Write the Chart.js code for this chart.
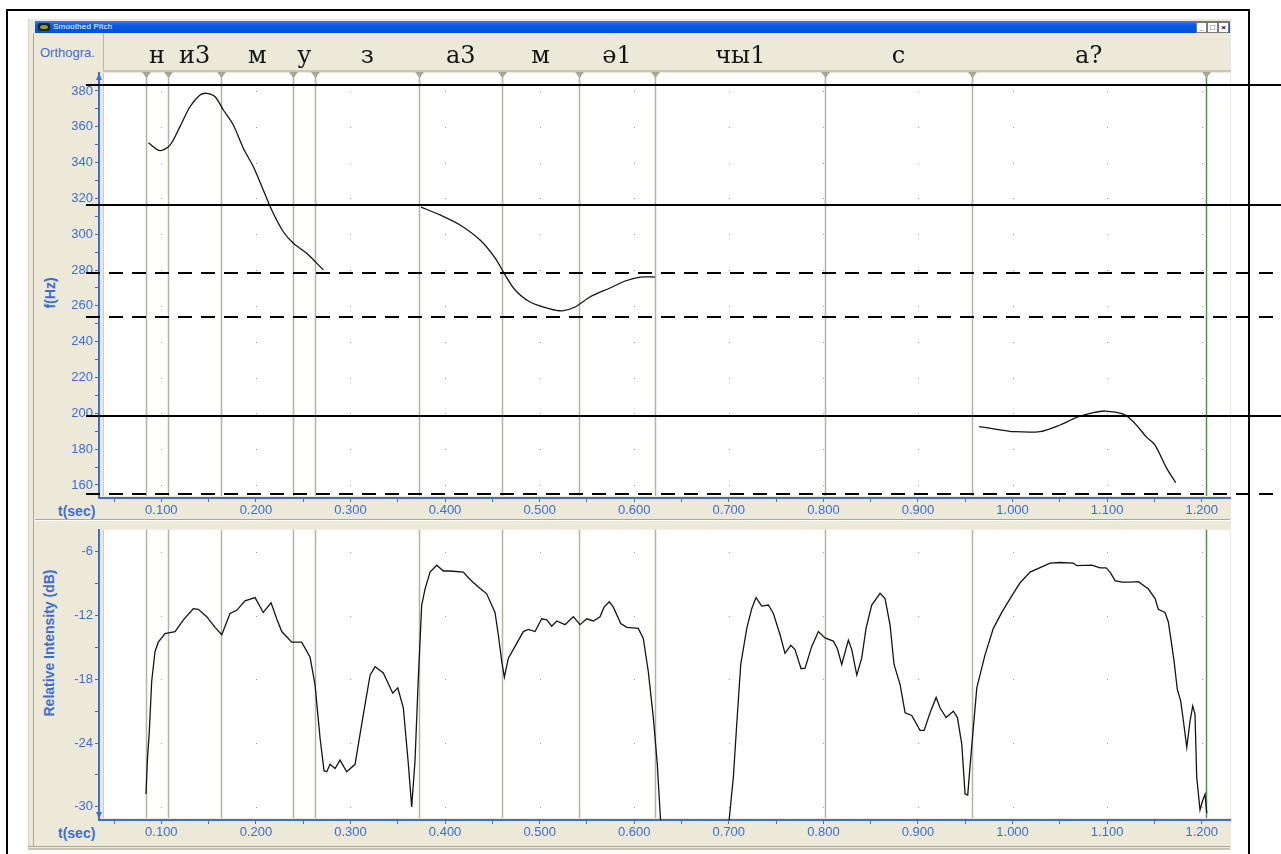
<!DOCTYPE html>
<html>
<head>
<meta charset="utf-8">
<script src="https://cdn.jsdelivr.net/npm/chart.js@4.4.1/dist/chart.umd.min.js"></script>
<style>
  body { margin:0; width:1281px; height:854px; overflow:hidden; position:relative; background:#fff;
         font-family:"Liberation Sans", Arial, sans-serif; }
  .abs { position:absolute; }
  #frame { left:6px; top:9px; width:1240px; height:900px; border:2px solid #000; }
  #win { left:28px; top:19px; width:1202px; height:831px; background:#ece9d8; border-left:1px solid #d8d4c6; }
  #edge { left:33px; top:33px; width:1px; height:814px; background:#aca899; }
  #titlebar { left:35px; top:21px; width:1195px; height:12px; background:linear-gradient(#3b80f4, #0a5ae2 35%, #0052dc); }
  #icon { left:38px; top:23px; width:12px; height:8px; background:#23260c; border-radius:2px; }
  #icon i { position:absolute; left:2px; top:2px; width:8px; height:4px; background:#9a9c2a; border-radius:50%; }
  #title { left:53px; top:21px; font-size:8px; line-height:12px; color:#fff; letter-spacing:0.2px; }
  .btn { top:22px; width:9px; height:9px; background:#fff; border:1px solid #7a7a7a; font-size:8px; line-height:9px;
         text-align:center; color:#000; font-weight:bold; }
  #orthoRow { left:103px; top:33px; width:1127px; height:37px; border-left:1px solid #b9b6a6; border-bottom:2px solid #c9c6b6; }
  #orthoLab { left:40px; top:45px; font-size:13px; line-height:15px; color:#3c6ed3; }
  .split { left:35px; width:1195px; height:1px; }
  .axt { font-size:14px; font-weight:bold; color:#3c6ed3; white-space:nowrap; line-height:16px; }
  .rot { transform:translate(-50%, -50%) rotate(-90deg); }
  canvas { position:absolute; left:0; }
</style>
</head>
<body>
<div id="frame" class="abs"></div>
<div id="win" class="abs"></div>
<div id="edge" class="abs"></div>
<div id="titlebar" class="abs"></div>
<div id="icon" class="abs"><i></i></div>
<div id="title" class="abs">Smoothed Pitch</div>
<div class="abs btn" style="left:1196px">_</div>
<div class="abs btn" style="left:1207px">□</div>
<div class="abs btn" style="left:1218px">×</div>
<div id="orthoRow" class="abs"></div>
<div id="orthoLab" class="abs">Orthogra.</div>
<div class="abs split" style="top:519px;background:#aca899"></div>
<div class="abs split" style="top:520px;background:#fff"></div>
<div class="abs split" style="top:846px;background:#aca899;left:28px;width:1202px"></div>
<div class="abs split" style="top:848px;background:#c9c5b5;left:28px;width:1202px;height:2px"></div>
<div class="abs axt rot" style="left:50px;top:293px">f(Hz)</div>
<div class="abs axt" style="left:58px;top:503px">t(sec)</div>
<div class="abs axt rot" style="left:49px;top:643px">Relative Intensity (dB)</div>
<div class="abs axt" style="left:58px;top:825px">t(sec)</div>

<canvas id="pitch" width="1281" height="854" style="top:0"></canvas>
<canvas id="intensity" width="1281" height="334" style="top:520px"></canvas>

<script>
// segment boundaries (sec) and the orthographic label of each segment
const segBounds = [0.0835, 0.1071, 0.1634, 0.2396, 0.2628, 0.3728, 0.4605, 0.5413, 0.6223, 0.8020, 0.9568, 1.2042];
const segLabels = ['н', 'и3', 'м', 'у', 'з', 'а3', 'м', 'ә1', 'чы1', 'с', 'а?'];

// time axis
const tMin = 0.0341, tMax = 1.2299;
const tTicksMajor = [0.1, 0.2, 0.3, 0.4, 0.5, 0.6, 0.7, 0.8, 0.9, 1.0, 1.1, 1.2];
const tTicksMinor = [0.05, 0.15, 0.25, 0.35, 0.45, 0.55, 0.65, 0.75, 0.85, 0.95, 1.05, 1.15];

// pitch axis
const hzMin = 152.74, hzMax = 390.05;
const hzTicksMajor = [160, 180, 200, 220, 240, 260, 280, 300, 320, 340, 360, 380];
const hzTicksMinor = [170, 190, 210, 230, 250, 270, 290, 310, 330, 350, 370];

// intensity axis
const dbMin = -31.24, dbMax = -3.92;
const dbTicksMajor = [-30, -24, -18, -12, -6];
const dbTicksMinor = [-27, -21, -15, -9];

// reference levels drawn across the pitch panel
const refSolidHz = [383.5, 316.5, 198.5];
const refDashedHz = [278.5, 254.0, 155.0];

// smoothed pitch, three voiced stretches
const pitchT1 = [0.0863, 0.0986, 0.1092, 0.1197, 0.1303, 0.1409, 0.1480, 0.1568, 0.1656, 0.1761, 0.1867, 0.1973, 0.2078, 0.2167, 0.2290, 0.2396, 0.2537, 0.2713];
const pitchHz1 = [351.1, 346.7, 349.8, 360.1, 371.2, 377.8, 378.7, 376.8, 369.4, 361.0, 348.0, 337.7, 324.7, 313.6, 301.4, 295.0, 289.4, 280.1];
const pitchT2 = [0.3746, 0.3947, 0.4158, 0.4370, 0.4528, 0.4634, 0.4740, 0.4898, 0.5110, 0.5237, 0.5374, 0.5533, 0.5744, 0.5903, 0.6061, 0.6220];
const pitchHz2 = [315.2, 310.8, 305.2, 296.8, 286.8, 277.3, 268.9, 262.2, 258.3, 257.2, 259.4, 265.0, 270.0, 273.9, 276.1, 276.1];
const pitchT3 = [0.9646, 0.9833, 1.0008, 1.0291, 1.0502, 1.0678, 1.0854, 1.0978, 1.1171, 1.1277, 1.1419, 1.1506, 1.1630, 1.1725];
const pitchHz3 = [192.6, 191.1, 189.8, 189.8, 193.5, 197.8, 200.4, 201.3, 199.6, 195.3, 186.6, 182.3, 169.3, 161.3];

// relative intensity, two stretches
const intT1 = [0.0838, 0.0852, 0.0873, 0.0898, 0.0933, 0.0968, 0.1039, 0.1145, 0.1233, 0.1338, 0.1391, 0.1480, 0.1568, 0.1639, 0.1726, 0.1797, 0.1885, 0.1991, 0.2078, 0.2160, 0.2220, 0.2273, 0.2379, 0.2484, 0.2572, 0.2625, 0.2678, 0.2720, 0.2749, 0.2784, 0.2837, 0.2889, 0.2960, 0.3048, 0.3136, 0.3207, 0.3260, 0.3347, 0.3447, 0.3500, 0.3559, 0.3612, 0.3647, 0.3682, 0.3717, 0.3753, 0.3788, 0.3841, 0.3912, 0.3982, 0.4052, 0.4193, 0.4264, 0.4352, 0.4440, 0.4528, 0.4563, 0.4599, 0.4627, 0.4669, 0.4740, 0.4827, 0.4880, 0.4951, 0.5022, 0.5075, 0.5128, 0.5181, 0.5268, 0.5356, 0.5427, 0.5498, 0.5568, 0.5638, 0.5681, 0.5737, 0.5779, 0.5857, 0.5921, 0.6043, 0.6096, 0.6149, 0.6202, 0.6244, 0.6283];
const intDb1 = [-28.8, -25.7, -22.9, -18.2, -15.4, -14.5, -13.7, -13.5, -12.4, -11.35, -11.4, -12.1, -13.1, -13.8, -11.8, -11.5, -10.6, -10.3, -11.7, -10.8, -12.3, -13.5, -14.5, -14.5, -15.9, -18.5, -23.5, -26.6, -26.7, -26.0, -26.4, -25.6, -26.7, -26.0, -21.3, -17.6, -16.8, -17.4, -19.3, -18.8, -20.7, -26.0, -30.0, -25.7, -17.9, -11.0, -9.5, -7.9, -7.25, -7.8, -7.8, -7.9, -8.6, -9.3, -9.95, -11.7, -13.8, -16.3, -17.8, -16.0, -14.9, -13.5, -13.3, -13.5, -12.3, -12.4, -13.0, -12.5, -12.85, -12.1, -12.85, -12.3, -12.5, -12.1, -11.2, -10.7, -11.2, -12.75, -13.1, -13.2, -14.15, -17.3, -21.6, -26.0, -32.0];
const intT2 = [0.6995, 0.7048, 0.7084, 0.7126, 0.7190, 0.7242, 0.7288, 0.7348, 0.7418, 0.7471, 0.7542, 0.7594, 0.7655, 0.7700, 0.7764, 0.7806, 0.7877, 0.7947, 0.8017, 0.8105, 0.8147, 0.8194, 0.8264, 0.8300, 0.8353, 0.8405, 0.8451, 0.8511, 0.8599, 0.8652, 0.8705, 0.8747, 0.8811, 0.8864, 0.8934, 0.9022, 0.9065, 0.9128, 0.9192, 0.9234, 0.9297, 0.9374, 0.9417, 0.9463, 0.9498, 0.9526, 0.9551, 0.9579, 0.9622, 0.9709, 0.9797, 0.9886, 0.9974, 1.0080, 1.0185, 1.0397, 1.0502, 1.0643, 1.0679, 1.0838, 1.0926, 1.0989, 1.1031, 1.1084, 1.1154, 1.1242, 1.1330, 1.1436, 1.1507, 1.1541, 1.1612, 1.1647, 1.1673, 1.1708, 1.1742, 1.1778, 1.1806, 1.1842, 1.1877, 1.1905, 1.1929, 1.1947, 1.1982, 1.2010, 1.2035, 1.2053];
const intDb2 = [-32.0, -27.2, -22.2, -16.6, -13.2, -11.35, -10.3, -11.1, -11.0, -11.8, -13.8, -15.55, -14.8, -15.2, -17.0, -16.95, -14.9, -13.5, -14.1, -14.4, -15.1, -16.6, -14.3, -15.2, -17.6, -16.0, -13.2, -11.0, -9.9, -10.4, -12.9, -16.6, -18.5, -21.15, -21.4, -22.8, -22.8, -21.15, -19.7, -20.7, -21.6, -21.0, -21.6, -24.1, -28.8, -28.9, -26.1, -23.2, -18.8, -15.7, -13.2, -11.7, -10.4, -8.9, -7.9, -7.06, -7.0, -7.06, -7.3, -7.25, -7.5, -7.5, -7.9, -8.7, -8.85, -8.85, -8.8, -9.5, -10.4, -11.4, -11.7, -12.6, -14.15, -16.3, -18.95, -20.05, -21.9, -24.4, -21.9, -20.5, -21.3, -27.2, -30.3, -29.4, -28.8, -30.6];

const BLUE = '#3c6ed3';
Chart.defaults.font.family = '"Liberation Sans", Arial, sans-serif';
Chart.defaults.font.size = 13;

const pts = (t, v) => t.map((tt, i) => ({x: tt, y: v[i]}));
const lineSet = (t, v, tension) => ({
  data: pts(t, v), borderColor: '#151515', borderWidth: 1.3,
  pointRadius: 0, tension: tension, fill: false
});

function timeScale(h) {
  return {
    type: 'linear', position: 'bottom', min: tMin, max: tMax, bounds: 'data',
    afterBuildTicks: s => { s.ticks = tTicksMinor.concat(tTicksMajor).sort((a, b) => a - b).map(v => ({value: v})); },
    afterFit: s => { s.height = h; },
    ticks: { autoSkip: false, maxRotation: 0, padding: 1, color: BLUE,
             callback: v => tTicksMajor.includes(v) ? v.toFixed(3) : '' },
    grid: { drawOnChartArea: false, tickLength: 4, color: BLUE },
    border: { color: BLUE, width: 2 }
  };
}

function valueScale(min, max, major, minor) {
  return {
    type: 'linear', position: 'left', min: min, max: max, bounds: 'data',
    afterBuildTicks: s => { s.ticks = minor.concat(major).sort((a, b) => a - b).map(v => ({value: v})); },
    afterFit: s => { s.width = 99; },
    ticks: { padding: 2, color: BLUE, callback: v => major.includes(v) ? String(v) : '' },
    grid: { drawOnChartArea: false, tickLength: 4, color: BLUE },
    border: { color: BLUE, width: 2 }
  };
}

// plot background, grid dots, segment boundaries and orthography
function panelDecor(yMajor, withOrtho, arrowUp) {
  return {
    id: 'panelDecor',
    beforeDraw(chart) {
      const {ctx, chartArea: a} = chart;
      ctx.save();
      ctx.fillStyle = '#fff';
      ctx.fillRect(a.left + 5, a.top, a.right - a.left - 5, a.bottom - a.top - 2);
      ctx.strokeStyle = '#cfccbf';
      ctx.lineWidth = 1;
      ctx.beginPath();
      ctx.moveTo(a.left + 4.5, a.bottom - 2);
      ctx.lineTo(a.left + 4.5, a.top);
      ctx.stroke();
      ctx.restore();
    },
    beforeDatasetsDraw(chart) {
      const {ctx, chartArea: a, scales: {x, y}} = chart;
      ctx.save();
      ctx.fillStyle = '#9a9a9a';
      tTicksMajor.forEach(tv => {
        const px = Math.round(x.getPixelForValue(tv));
        yMajor.forEach(v => {
          const py = Math.round(y.getPixelForValue(v));
          ctx.fillRect(px, py, 1, 1);
        });
      });
      segBounds.forEach((b, i) => {
        const px = Math.round(x.getPixelForValue(b)) + 0.5;
        const last = i === segBounds.length - 1;
        ctx.strokeStyle = last ? '#3f9f3f' : '#b5b2a3';
        ctx.lineWidth = 1.5;
        ctx.beginPath();
        ctx.moveTo(px, a.top);
        ctx.lineTo(px, a.bottom - 2);
        ctx.stroke();
        if (withOrtho) {
          ctx.fillStyle = '#a9a690';
          ctx.beginPath();
          ctx.moveTo(px - 4.5, a.top - 1);
          ctx.lineTo(px + 4.5, a.top - 1);
          ctx.lineTo(px, a.top + 5);
          ctx.closePath();
          ctx.fill();
        }
      });
      if (withOrtho) {
        ctx.fillStyle = '#141414';
        ctx.font = '24px "DejaVu Serif", "Liberation Serif", serif';
        ctx.textAlign = 'center';
        ctx.textBaseline = 'alphabetic';
        segLabels.forEach((lab, i) => {
          const cx = (x.getPixelForValue(segBounds[i]) + x.getPixelForValue(segBounds[i + 1])) / 2;
          ctx.fillText(lab, cx, a.top - 10);
        });
      }
      ctx.restore();
    },
    afterDraw(chart) {
      const {ctx, chartArea: a} = chart;
      ctx.save();
      ctx.fillStyle = BLUE;
      ctx.beginPath();
      if (arrowUp) {
        ctx.moveTo(a.left, a.top);
        ctx.lineTo(a.left - 3, a.top + 7);
        ctx.lineTo(a.left + 3, a.top + 7);
      } else {
        ctx.moveTo(a.left, a.bottom - 1);
        ctx.lineTo(a.left - 3, a.bottom - 8);
        ctx.lineTo(a.left + 3, a.bottom - 8);
      }
      ctx.closePath();
      ctx.fill();
      ctx.restore();
    }
  };
}

// solid and dashed reference levels across the pitch panel
const refLines = {
  id: 'refLines',
  afterDraw(chart) {
    const {ctx, chartArea: a, scales: {y}} = chart;
    const x0 = a.left - 13, x1 = chart.width;
    ctx.save();
    ctx.strokeStyle = '#000';
    ctx.lineWidth = 2;
    refSolidHz.forEach(v => {
      const py = Math.round(y.getPixelForValue(v));
      ctx.beginPath(); ctx.moveTo(x0, py); ctx.lineTo(x1, py); ctx.stroke();
    });
    ctx.setLineDash([14, 9]);
    refDashedHz.forEach(v => {
      const py = Math.round(y.getPixelForValue(v));
      ctx.beginPath(); ctx.moveTo(x0, py); ctx.lineTo(x1, py); ctx.stroke();
    });
    ctx.restore();
  }
};

new Chart(document.getElementById('pitch'), {
  type: 'line',
  data: { datasets: [
    lineSet(pitchT1, pitchHz1, 0.3),
    lineSet(pitchT2, pitchHz2, 0.3),
    lineSet(pitchT3, pitchHz3, 0.3)
  ] },
  options: {
    responsive: false, animation: false, devicePixelRatio: 1,
    layout: { padding: { left: 0, right: 51, top: 73, bottom: 326 } },
    plugins: { legend: { display: false }, tooltip: { enabled: false } },
    scales: { x: timeScale(30), y: valueScale(hzMin, hzMax, hzTicksMajor, hzTicksMinor) }
  },
  plugins: [panelDecor(hzTicksMajor, true, true), refLines]
});

new Chart(document.getElementById('intensity'), {
  type: 'line',
  data: { datasets: [
    lineSet(intT1, intDb1, 0),
    lineSet(intT2, intDb2, 0)
  ] },
  options: {
    responsive: false, animation: false, devicePixelRatio: 1,
    layout: { padding: { left: 0, right: 51, top: 7, bottom: 10 } },
    plugins: { legend: { display: false }, tooltip: { enabled: false } },
    scales: { x: timeScale(24), y: valueScale(dbMin, dbMax, dbTicksMajor, dbTicksMinor) }
  },
  plugins: [panelDecor(dbTicksMajor, false, false)]
});
</script>
</body>
</html>
